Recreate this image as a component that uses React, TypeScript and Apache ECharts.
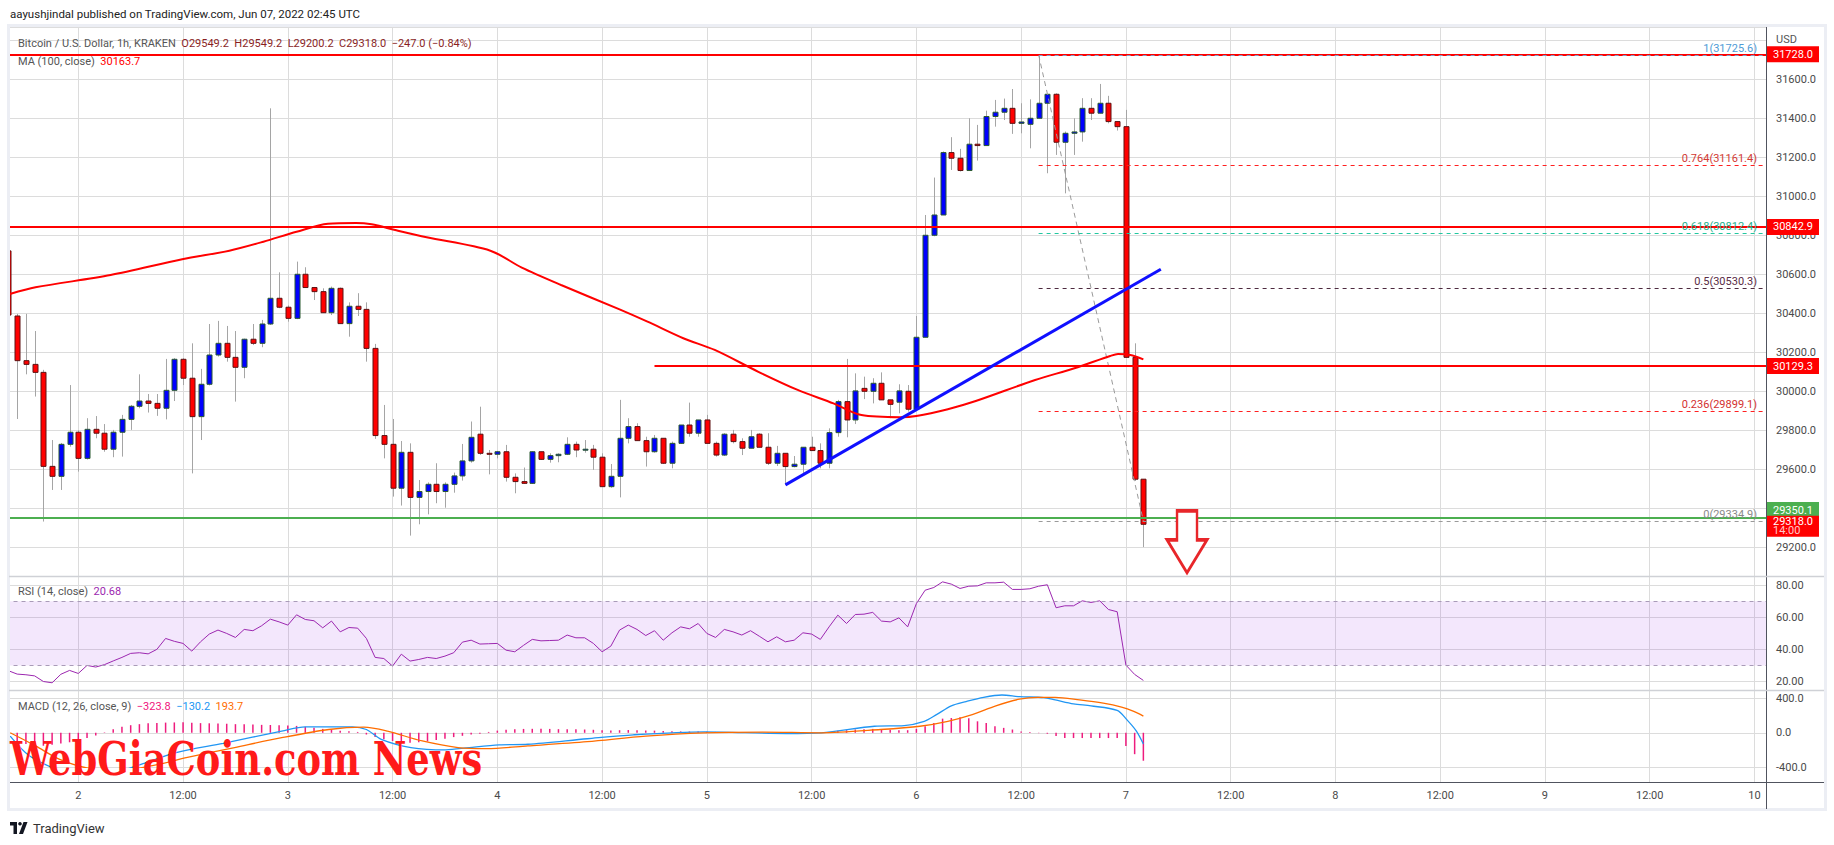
import React, { useEffect, useRef } from "react";
import * as echarts from "echarts";

// ---------- data ----------
const START_HOUR = 16; // hours since Jun 1 00:00 UTC of the first candle
// [open, high, low, close]
const ohlc: number[][] = [
  [30720, 30730, 30391, 30391], [30386, 30397, 29858, 30157], [30157, 30397, 30087, 30138], [30138, 30309, 29973, 30097],
  [30097, 30110, 29332, 29615], [29615, 29750, 29494, 29564], [29564, 29735, 29494, 29728], [29728, 30032, 29716, 29790],
  [29790, 29800, 29588, 29656], [29656, 29862, 29650, 29805], [29805, 29873, 29759, 29785], [29785, 29832, 29690, 29703],
  [29703, 29802, 29662, 29790], [29790, 29879, 29665, 29856], [29856, 29930, 29802, 29923], [29923, 30087, 29913, 29950],
  [29950, 29986, 29891, 29938], [29938, 29986, 29874, 29913], [29913, 30166, 29856, 30005], [30005, 30170, 29950, 30164],
  [30164, 30170, 30032, 30067], [30067, 30246, 29579, 29870], [29870, 30115, 29750, 30036], [30036, 30345, 30030, 30186],
  [30186, 30361, 30178, 30246], [30246, 30335, 30152, 30174], [30174, 30309, 29947, 30123], [30123, 30270, 30067, 30267],
  [30267, 30345, 30237, 30246], [30246, 30366, 30226, 30345], [30345, 31451, 30340, 30477], [30477, 30610, 30426, 30431],
  [30431, 30440, 30357, 30374], [30374, 30665, 30370, 30600], [30600, 30636, 30532, 30532], [30532, 30535, 30468, 30511],
  [30511, 30528, 30403, 30403], [30403, 30537, 30391, 30528], [30528, 30532, 30347, 30347], [30347, 30456, 30280, 30436],
  [30436, 30503, 30386, 30420], [30420, 30456, 30152, 30220], [30220, 30243, 29756, 29773], [29773, 29930, 29656, 29728],
  [29728, 29858, 29460, 29503], [29503, 29745, 29414, 29687], [29687, 29733, 29260, 29456], [29456, 29545, 29318, 29486],
  [29486, 29533, 29369, 29523], [29523, 29631, 29426, 29486], [29486, 29533, 29403, 29523], [29523, 29583, 29480, 29566],
  [29566, 29730, 29542, 29643], [29643, 29845, 29634, 29764], [29780, 29921, 29674, 29682], [29682, 29699, 29574, 29677],
  [29677, 29694, 29656, 29690], [29690, 29725, 29537, 29559], [29559, 29579, 29477, 29537], [29537, 29609, 29525, 29528],
  [29528, 29692, 29525, 29690], [29690, 29690, 29648, 29651], [29651, 29682, 29634, 29670], [29670, 29682, 29636, 29677],
  [29677, 29764, 29673, 29728], [29728, 29742, 29662, 29699], [29699, 29750, 29685, 29703], [29703, 29725, 29597, 29662],
  [29662, 29682, 29511, 29511], [29511, 29627, 29505, 29564], [29564, 29956, 29456, 29759], [29759, 29862, 29733, 29819],
  [29819, 29836, 29747, 29747], [29747, 29767, 29614, 29690], [29690, 29776, 29685, 29759], [29759, 29759, 29627, 29631],
  [29631, 29742, 29605, 29733], [29733, 29827, 29730, 29827], [29827, 29942, 29767, 29785], [29785, 29853, 29767, 29853],
  [29853, 29879, 29733, 29733], [29733, 29742, 29665, 29673], [29673, 29785, 29668, 29780], [29780, 29802, 29733, 29742],
  [29742, 29759, 29673, 29708], [29708, 29802, 29708, 29767], [29780, 29785, 29713, 29713], [29713, 29785, 29622, 29631],
  [29631, 29720, 29617, 29682], [29682, 29682, 29520, 29614], [29614, 29668, 29610, 29626], [29626, 29713, 29579, 29713],
  [29713, 29767, 29696, 29696], [29696, 29733, 29605, 29631], [29631, 29810, 29605, 29788], [29788, 29956, 29767, 29947],
  [29947, 30166, 29764, 29853], [29853, 30092, 29832, 30002], [30015, 30075, 29960, 30000], [30000, 30067, 29938, 30041],
  [30041, 30097, 29956, 29956], [29956, 29956, 29862, 29933], [29944, 30036, 29887, 30002], [30000, 30032, 29896, 29908],
  [29908, 30386, 29905, 30277], [30277, 30904, 30277, 30800], [30800, 31096, 30795, 30904], [30904, 31230, 30904, 31224],
  [31224, 31303, 31135, 31195], [31195, 31243, 31127, 31132], [31132, 31400, 31130, 31267], [31267, 31366, 31183, 31260],
  [31260, 31439, 31260, 31409], [31409, 31494, 31357, 31431], [31431, 31501, 31391, 31451], [31451, 31550, 31320, 31374],
  [31374, 31477, 31323, 31381], [31369, 31497, 31246, 31400], [31400, 31725.6, 31400, 31477], [31477, 31523, 31118, 31523],
  [31523, 31528, 31212, 31277], [31277, 31332, 31015, 31323], [31323, 31400, 31212, 31330], [31330, 31503, 31280, 31451],
  [31451, 31503, 31391, 31426], [31426, 31576, 31426, 31477], [31477, 31515, 31374, 31383], [31383, 31386, 31337, 31357],
  [31357, 31443, 30174, 30174], [30174, 30246, 29540, 29549.2], [29549.2, 29549.2, 29200.2, 29318.0],
];

// MA(100) read at [hour, value]
const maPoints: number[][] = [
  [16.17, 30499], [19.1, 30533], [27.7, 30596], [35.9, 30677], [41.3, 30721], [45.2, 30767], [49.0, 30818],
  [52.6, 30859], [55.8, 30863], [57.6, 30856], [60.3, 30827], [63.9, 30790], [71.2, 30721], [74.8, 30634],
  [79.3, 30545], [86.0, 30420], [89.2, 30357], [93.3, 30272], [96.9, 30212], [101.9, 30100], [106.4, 30007],
  [110.5, 29938], [113.7, 29878], [118.2, 29867], [120.0, 29873], [123.6, 29908], [126.8, 29950], [133.6, 30058],
  [138.1, 30118], [142.2, 30181], [143.1, 30191], [144.5, 30186], [146, 30163.7],
];

const rsiValues: number[] = [
  26.7, 24.6, 24.2, 23.5, 20.0, 19.2, 24.5, 26.9, 25.0, 30.0,
  29.0, 30.5, 32.8, 35.0, 37.5, 37.9, 37.2, 40.0, 46.8, 45.0,
  43.7, 38.9, 44.7, 49.5, 52.0, 49.9, 47.4, 52.4, 51.6, 54.7,
  58.8, 57.1, 55.1, 61.5, 58.6, 57.8, 53.4, 57.6, 50.9, 53.6,
  53.2, 46.8, 35.0, 34.3, 29.6, 37.0, 32.7, 33.7, 35.0, 34.3,
  35.8, 37.9, 44.5, 45.7, 43.3, 43.5, 43.7, 39.5, 38.5, 42.5,
  46.2, 45.3, 45.5, 45.7, 48.9, 47.2, 47.2, 43.7, 38.5, 42.0,
  52.0, 55.1, 52.4, 48.6, 51.6, 45.7, 50.3, 54.0, 52.8, 56.1,
  49.9, 47.4, 52.4, 50.9, 48.9, 51.6, 48.2, 44.7, 47.8, 44.7,
  45.7, 50.3, 49.5, 46.2, 54.0, 61.3, 56.1, 61.7, 61.9, 63.0,
  57.6, 57.1, 59.6, 54.0, 68.5, 76.8, 78.5, 82.0, 80.6, 77.9,
  79.3, 79.5, 81.4, 81.4, 81.8, 77.3, 77.3, 77.7, 79.3, 80.2,
  65.9, 67.1, 67.1, 70.2, 69.2, 70.2, 64.8, 63.4, 30.2, 24.4,
  20.68,
];

const macdHist: number[] = [
  -60, -100, -130, -140, -150, -140, -125, -110, -90, -60,
  -30, 5, 40, 70, 88, 100, 110, 114, 118, 120,
  122, 115, 112, 110, 108, 105, 100, 98, 95, 92,
  90, 88, 85, 80, 69, 57, 45, 35, 25, 19,
  10, -20, -50, -75, -95, -105, -114, -110, -100, -85,
  -70, -50, -35, -19, -10, 10, 25, 35, 40, 45,
  46, 46, 45, 42, 40, 40, 38, 35, 30, 28,
  30, 32, 30, 28, 25, 20, 18, 16, 15, 14,
  12, 10, 8, 6, 5, 4, 2, -2, -5, -8,
  -6, -4, -2, 0, 10, 25, 30, 38, 42, 45,
  40, 35, 30, 30, 46, 76, 114, 164, 171, 179,
  168, 133, 114, 76, 57, 38, 15, 8, -4, -11,
  -38, -61, -61, -61, -61, -61, -61, -61, -152, -248,
  -323.8,
];

const macdLine: number[][] = [
  [16.2, -38], [18.4, -267], [21.8, -438], [23.8, -495], [28.5, -450], [35.2, -229], [40.6, -122], [47.3, 19],
  [50.0, 69], [55.4, 69], [57.0, 38], [58.7, -76], [62.1, -171], [66.1, -198], [68.8, -171], [72.2, -141],
  [75.5, -133], [82.3, -69], [87.6, -23], [95.7, 11], [105.1, -8], [109.1, 0], [115.2, 76], [118.6, 84],
  [120.9, 133], [122.3, 210], [124.0, 312], [125.7, 362], [127.7, 411], [129.8, 438], [131.8, 419],
  [134.6, 408], [135.9, 381], [138.0, 335], [140.0, 312], [143.0, 259], [144.1, 152], [145.2, 19], [146, -130.2],
];

const signalLine: number[][] = [
  [16.2, 0], [19.1, -152], [21.8, -305], [25.1, -411], [28.5, -438], [32.5, -381], [36.5, -286], [41.9, -171],
  [47.3, -57], [52.7, 38], [56.7, 65], [59.4, 19], [63.4, -95], [67.5, -171], [70.8, -183], [75.5, -152],
  [82.3, -103], [89.0, -38], [95.7, 0], [102.4, 8], [109.1, 0], [115.9, 38], [120.4, 76], [123.6, 133],
  [126.4, 210], [129.1, 312], [131.8, 389], [133.9, 411], [135.9, 411], [138.7, 381], [141.4, 343],
  [143.5, 297], [144.9, 248], [146, 193.7],
];

// horizontal levels
const redLevels = [31728.0, 30842.9];
const partialRedLevel = { fromHour: 90, value: 30129.3 };
const greenLevel = 29350.1;
const lastPrice = 29318.0;
const trendLine: number[][] = [[105, 29520], [148, 30626]];
const fibFromHour = 134;
const fibLevels = [
  { ratio: "1", value: 31725.6, line: "#7f9cc4", text: "#4f9bd6" },
  { ratio: "0.764", value: 31161.4, line: "#ff2020", text: "#d23a34" },
  { ratio: "0.618", value: 30812.4, line: "#22c7a0", text: "#26b08d" },
  { ratio: "0.5", value: 30530.3, line: "#4d2a3f", text: "#5a2b44" },
  { ratio: "0.236", value: 29899.1, line: "#ff2020", text: "#d32f2f" },
  { ratio: "0", value: 29334.9, line: "#9a9a9a", text: "#8a8a8a" },
];
const fibDiagonal: number[][] = [[134, 31725.6], [146, 29334.9]];
const arrowAt = [151, 29228];

const priceTicks = { min: 29200, max: 31868, interval: 200 };
const priceLabelMax = 31600; // labels above this are hidden by the pane header
const rsiTicks = { min: 20, max: 85.65, interval: 20 };
const macdTicks = { min: -400, max: 496, interval: 400 };
const X_MIN = 12;
const X_MAX = 217.32;

const FONT = "Roboto, 'Liberation Sans', sans-serif";

export default function App() {
  const ref = useRef<HTMLDivElement>(null);
  useEffect(() => {
    if (!ref.current) return;
    const chart = echarts.init(ref.current, undefined, { renderer: "svg" });

    const candleData = ohlc.map((r, i) => [START_HOUR + i, r[0], r[3], r[2], r[1]]);
    const rsiData = rsiValues.map((v, i) => [START_HOUR + i, v]);
    const histData = macdHist.map((v, i) => [START_HOUR + i, v]);

    const gridLine = { lineStyle: { color: "#dcdcdc", width: 1 } };
    const axisLabelStyle = { color: "#4a4a4a", fontSize: 11, fontFamily: FONT, margin: 10 };

    const box = (text: string, bg: string, offset: number[] = [0, 0]) => ({
      show: true,
      position: "end",
      formatter: text,
      backgroundColor: bg,
      color: "#fff",
      fontSize: 11,
      fontFamily: FONT,
      padding: [3, 6, 2, 6],
      distance: 1,
      offset,
    });

    const gridCommon = { left: -26.46, right: 68, outerBoundsMode: "none", containLabel: false };

    const xHidden = (gi: number) => ({
      type: "value", gridIndex: gi, min: X_MIN, max: X_MAX, interval: 12, show: false,
    });

    const option: any = {
      animation: false,
      backgroundColor: "#ffffff",
      grid: [
        { ...gridCommon, top: 27, bottom: 297.7 },
        { ...gridCommon, top: 576, bottom: 163.5 },
        { ...gridCommon, top: 690, bottom: 77.7 },
        { ...gridCommon, top: 27, bottom: 63 },
      ],
      xAxis: [
        xHidden(0),
        xHidden(1),
        xHidden(2),
        {
          type: "value", gridIndex: 3, min: X_MIN, max: X_MAX, interval: 12,
          axisLine: { show: true, lineStyle: { color: "#50535e", width: 1 } },
          axisTick: { show: false },
          splitLine: gridLine,
          axisLabel: {
            color: "#4a4a4a", fontSize: 11, fontFamily: FONT, margin: 8,
            showMinLabel: false, showMaxLabel: false,
            formatter: (v: number) => {
              const h = Math.round(v);
              return h % 24 === 0 ? String(h / 24 + 1) : "12:00";
            },
          },
        },
      ],
      yAxis: [
        {
          type: "value", gridIndex: 0, position: "right", ...priceTicks,
          axisLine: { show: false }, axisTick: { show: false }, splitLine: gridLine,
          axisLabel: {
            ...axisLabelStyle, showMaxLabel: false,
            formatter: (v: number) => (v > priceLabelMax ? "" : v.toFixed(1)),
          },
        },
        {
          type: "value", gridIndex: 1, position: "right", ...rsiTicks,
          axisLine: { show: false }, axisTick: { show: false }, splitLine: gridLine,
          axisLabel: { ...axisLabelStyle, showMaxLabel: false, formatter: (v: number) => v.toFixed(2) },
        },
        {
          type: "value", gridIndex: 2, position: "right", ...macdTicks,
          axisLine: { show: false }, axisTick: { show: false }, splitLine: gridLine,
          axisLabel: { ...axisLabelStyle, showMaxLabel: false, formatter: (v: number) => v.toFixed(1) },
        },
        { type: "value", gridIndex: 3, min: 0, max: 1, show: false },
      ],
      series: [
        {
          type: "custom",
          name: "candles",
          xAxisIndex: 0, yAxisIndex: 0,
          clip: true,
          z: 2,
          encode: { x: 0, y: [1, 2, 3, 4] },
          data: candleData,
          renderItem: (params: any, api: any) => {
            const t = api.value(0), o = api.value(1), c = api.value(2), l = api.value(3), h = api.value(4);
            const pO = api.coord([t, o]);
            const pC = api.coord([t, c]);
            const pL = api.coord([t, l]);
            const pH = api.coord([t, h]);
            const x = Math.round(pO[0]) + 0.5;
            const top = Math.min(pO[1], pC[1]);
            const bot = Math.max(pO[1], pC[1]);
            const up = c >= o;
            const bw = 5;
            return {
              type: "group",
              children: [
                { type: "line", shape: { x1: x, y1: pH[1], x2: x, y2: pL[1] }, style: { stroke: "#a5a5a5", lineWidth: 1 } },
                {
                  type: "rect",
                  shape: { x: x - bw / 2, y: top, width: bw, height: Math.max(bot - top, 1) },
                  style: { fill: up ? "#0000ff" : "#ff0000", stroke: up ? "#2b5a30" : "#5e1212", lineWidth: 1 },
                },
              ],
            };
          },
        },
        {
          type: "line",
          name: "MA",
          xAxisIndex: 0, yAxisIndex: 0,
          data: maPoints,
          smooth: 0.3,
          showSymbol: false, symbol: "none",
          lineStyle: { color: "#ff0000", width: 2 },
          z: 4,
          silent: true,
          markLine: {
            silent: true,
            symbol: ["none", "none"],
            data: [
              { yAxis: redLevels[0], lineStyle: { color: "#ff0000", width: 2, type: "solid" }, label: box("31728.0", "#ff0000") },
              { yAxis: redLevels[1], lineStyle: { color: "#ff0000", width: 2, type: "solid" }, label: box("30842.9", "#ff0000") },
              [
                { coord: [partialRedLevel.fromHour, partialRedLevel.value] },
                { coord: [X_MAX, partialRedLevel.value], lineStyle: { color: "#ff0000", width: 2, type: "solid" }, label: box("30129.3", "#ff0000") },
              ],
              { yAxis: greenLevel, lineStyle: { color: "#4caf50", width: 2, type: "solid" }, label: box("29350.1", "#4caf50", [0, -8]) },
              {
                yAxis: lastPrice,
                lineStyle: { color: "rgba(0,0,0,0)", width: 0 },
                label: {
                  show: true, position: "end", distance: 1, offset: [0, 2],
                  formatter: "{a|29318.0}\n{b|14:00}",
                  backgroundColor: "#ff0000", padding: [1, 6, 1, 6],
                  rich: {
                    a: { color: "#fff", fontSize: 11, fontFamily: FONT, lineHeight: 9 },
                    b: { color: "#ffc8c8", fontSize: 11, fontFamily: FONT, lineHeight: 10 },
                  },
                },
              },
            ],
          },
          markPoint: {
            silent: true,
            symbol: "path://M10,0 L30,0 L30,29 L40,29 L20,62 L0,29 L10,29 Z",
            symbolSize: [40, 62],
            itemStyle: { color: "#ffffff", borderColor: "#e8262a", borderWidth: 3 },
            label: { show: false },
            data: [{ coord: arrowAt }],
          },
        },
        {
          type: "line",
          name: "trend",
          xAxisIndex: 0, yAxisIndex: 0,
          data: trendLine,
          showSymbol: false, symbol: "none",
          lineStyle: { color: "#1010ff", width: 3 },
          z: 5,
          silent: true,
        },
        {
          type: "line",
          name: "fib",
          xAxisIndex: 0, yAxisIndex: 0,
          data: fibDiagonal,
          showSymbol: false, symbol: "none",
          lineStyle: { color: "#9a9a9a", width: 1, type: [5, 4] },
          z: 3,
          silent: true,
          markLine: {
            silent: true,
            symbol: ["none", "none"],
            data: fibLevels.map((f) => [
              { coord: [fibFromHour, f.value] },
              {
                coord: [X_MAX, f.value],
                lineStyle: { color: f.line, width: 1, type: [4, 4] },
                label: {
                  show: true, position: "insideEndTop", distance: [9, 1],
                  formatter: `${f.ratio}(${f.value.toFixed(1)})`,
                  color: f.text, fontSize: 11, fontFamily: FONT,
                },
              },
            ]),
          },
        },
        {
          type: "line",
          name: "RSI",
          xAxisIndex: 1, yAxisIndex: 1,
          data: rsiData,
          showSymbol: false, symbol: "none",
          clip: false,
          lineStyle: { color: "#9c27b0", width: 1 },
          silent: true,
          markArea: {
            silent: true,
            itemStyle: { color: "rgba(149,40,230,0.11)" },
            data: [[{ yAxis: 30 }, { yAxis: 70 }]],
          },
          markLine: {
            silent: true,
            symbol: ["none", "none"],
            label: { show: false },
            lineStyle: { color: "#a99bb8", width: 1, type: [4, 4] },
            data: [{ yAxis: 70 }, { yAxis: 30 }],
          },
        },
        {
          type: "bar",
          name: "Histogram",
          xAxisIndex: 2, yAxisIndex: 2,
          data: histData,
          barWidth: 1.5,
          itemStyle: { color: "#ee1c7e" },
          silent: true,
        },
        {
          type: "line",
          name: "MACD",
          xAxisIndex: 2, yAxisIndex: 2,
          data: macdLine,
          smooth: 0.3,
          showSymbol: false, symbol: "none",
          lineStyle: { color: "#2196f3", width: 1.3 },
          silent: true,
        },
        {
          type: "line",
          name: "Signal",
          xAxisIndex: 2, yAxisIndex: 2,
          data: signalLine,
          smooth: 0.3,
          showSymbol: false, symbol: "none",
          lineStyle: { color: "#ff6d00", width: 1.3 },
          silent: true,
        },
        { type: "line", xAxisIndex: 3, yAxisIndex: 3, data: [], silent: true },
      ],
      graphic: [
        { type: "rect", z: 100, shape: { x: 0, y: 0, width: 9, height: 845 }, style: { fill: "#ffffff" } },
        { type: "rect", z: 101, shape: { x: 8.5, y: 25.5, width: 1817, height: 784 }, style: { fill: "none", stroke: "#eceef4", lineWidth: 3 } },
        { type: "line", z: 101, shape: { x1: 1766.5, y1: 27, x2: 1766.5, y2: 809 }, style: { stroke: "#50535e", lineWidth: 1 } },
        { type: "line", z: 101, shape: { x1: 1766, y1: 782.5, x2: 1824, y2: 782.5 }, style: { stroke: "#50535e", lineWidth: 1 } },
        { type: "line", z: 101, shape: { x1: 9, y1: 576.5, x2: 1824, y2: 576.5 }, style: { stroke: "#cfd1d6", lineWidth: 1.5 } },
        { type: "line", z: 101, shape: { x1: 9, y1: 690.5, x2: 1824, y2: 690.5 }, style: { stroke: "#cfd1d6", lineWidth: 1.5 } },
        {
          type: "text", z: 102, x: 10, y: 14,
          style: { text: "aayushjindal published on TradingView.com, Jun 07, 2022 02:45 UTC", fill: "#222", fontSize: 11.5, fontFamily: FONT, verticalAlign: "middle" },
        },
        {
          type: "text", z: 102, x: 18, y: 43,
          style: {
            text: "{g|Bitcoin / U.S. Dollar, 1h, KRAKEN}  {r|O29549.2  H29549.2  L29200.2  C29318.0  −247.0 (−0.84%)}",
            verticalAlign: "middle", fontSize: 11, fontFamily: FONT,
            rich: {
              g: { fill: "#555", fontSize: 11, fontFamily: FONT },
              r: { fill: "#8a1f1f", fontSize: 11, fontFamily: FONT },
            },
          },
        },
        {
          type: "text", z: 102, x: 18, y: 61,
          style: {
            text: "{g|MA (100, close)}  {r|30163.7}",
            verticalAlign: "middle", fontSize: 11, fontFamily: FONT,
            rich: { g: { fill: "#555", fontSize: 11, fontFamily: FONT }, r: { fill: "#ff0000", fontSize: 11, fontFamily: FONT } },
          },
        },
        {
          type: "text", z: 102, x: 1776, y: 39,
          style: { text: "USD", fill: "#555", fontSize: 11, fontFamily: FONT, verticalAlign: "middle" },
        },
        {
          type: "text", z: 102, x: 18, y: 591,
          style: {
            text: "{g|RSI (14, close)}  {r|20.68}",
            verticalAlign: "middle", fontSize: 11, fontFamily: FONT,
            rich: { g: { fill: "#555", fontSize: 11, fontFamily: FONT }, r: { fill: "#9c27b0", fontSize: 11, fontFamily: FONT } },
          },
        },
        {
          type: "text", z: 102, x: 18, y: 706,
          style: {
            text: "{g|MACD (12, 26, close, 9)}  {p|−323.8}  {b|−130.2}  {o|193.7}",
            verticalAlign: "middle", fontSize: 11, fontFamily: FONT,
            rich: {
              g: { fill: "#555", fontSize: 11, fontFamily: FONT },
              p: { fill: "#f0147c", fontSize: 11, fontFamily: FONT },
              b: { fill: "#2196f3", fontSize: 11, fontFamily: FONT },
              o: { fill: "#ff6d00", fontSize: 11, fontFamily: FONT },
            },
          },
        },
        {
          type: "text", z: 110, x: 10, y: 759, scaleX: 0.89,
          style: {
            text: "WebGiaCoin.com News", fill: "#ff1a1a", fontSize: 46, fontWeight: "bold",
            fontFamily: "'DejaVu Serif Condensed', 'DejaVu Serif', serif", verticalAlign: "middle",
          },
        },
        {
          type: "group", z: 102, x: 10, y: 822,
          children: [
            { type: "polygon", shape: { points: [[0, 0], [7, 0], [7, 12], [3.5, 12], [3.5, 3.5], [0, 3.5]] }, style: { fill: "#131722" } },
            { type: "circle", shape: { cx: 10, cy: 1.8, r: 1.8 }, style: { fill: "#131722" } },
            { type: "polygon", shape: { points: [[9, 12], [13.5, 0], [17.5, 0], [13, 12]] }, style: { fill: "#131722" } },
          ],
        },
        {
          type: "text", z: 102, x: 33, y: 828,
          style: { text: "TradingView", fill: "#333", fontSize: 13, fontFamily: FONT, verticalAlign: "middle" },
        },
      ],
    };

    chart.setOption(option);
    return () => chart.dispose();
  }, []);

  return <div ref={ref} style={{ position: "fixed", left: 0, top: 0, width: 1834, height: 845 }} />;
}
